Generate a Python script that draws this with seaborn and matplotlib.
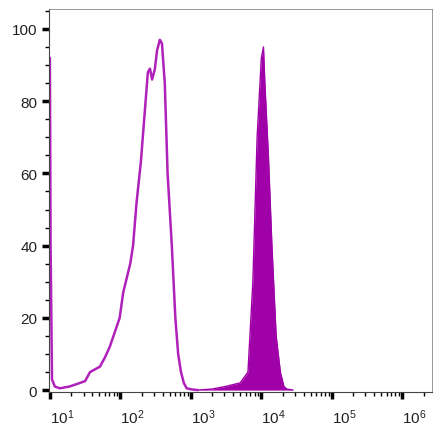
import numpy as np
import pandas as pd
import matplotlib
matplotlib.use("Agg")
import matplotlib.pyplot as plt
import matplotlib.transforms as mtransforms
import seaborn as sns
from matplotlib.ticker import LogLocator, NullFormatter, MultipleLocator

sns.set_style("white")
plt.rcParams['font.family'] = ['Liberation Sans', 'DejaVu Sans']
plt.rcParams['mathtext.fontset'] = 'custom'
plt.rcParams['mathtext.rm'] = 'Liberation Sans'
plt.rcParams['mathtext.it'] = 'Liberation Sans'

# open (control) histogram: log10 fluorescence, % of max
ctrl_log = [1.0, 1.01, 1.03, 1.07, 1.14, 1.28, 1.43, 1.50, 1.57, 1.71, 1.78, 1.85, 1.92, 1.99,
            2.04, 2.09, 2.14, 2.18, 2.23, 2.29, 2.35, 2.39, 2.42, 2.45, 2.49, 2.52, 2.56, 2.59,
            2.63, 2.67, 2.73, 2.78, 2.82, 2.86, 2.90, 2.94, 3.01, 3.10]
ctrl_y = [92, 40, 3, 1, 0.5, 1, 2, 2.5, 5, 6.5, 9, 12, 16, 20, 27, 31, 35, 40, 52, 63, 78, 88,
          89, 86, 89, 94, 97, 96, 85, 60, 40, 20, 10, 5, 2, 0.5, 0.2, 0]
# filled (stained) histogram
stain_log = [3.1, 3.30, 3.49, 3.70, 3.81, 3.88, 3.94, 4.00, 4.03, 4.05, 4.10, 4.15, 4.21,
             4.27, 4.32, 4.36, 4.45]
stain_y = [0, 0.3, 1, 2, 5, 30, 70, 92, 95, 85, 65, 40, 15, 5, 1, 0.3, 0]

ctrl = pd.DataFrame({"x": np.power(10.0, ctrl_log), "y": ctrl_y})
stain = pd.DataFrame({"x": np.power(10.0, stain_log), "y": stain_y})

fig, ax = plt.subplots(figsize=(4.43, 4.39), dpi=100)
fig.subplots_adjust(left=0.111, right=0.975, top=0.977, bottom=0.105)

ax.fill_between(stain["x"], stain["y"], color="#A000A8", lw=0)
sns.lineplot(data=stain, x="x", y="y", ax=ax, color="#A000A8", lw=1)
sns.lineplot(data=ctrl, x="x", y="y", ax=ax, color="#B020BA", lw=1.8)

ax.set_xscale("log")
ax.set_xlim(10**0.99, 10**6.42)
ax.set_ylim(-0.5, 105.5)
ax.set_xlabel("")
ax.set_ylabel("")
ax.set_xticks([10**i for i in range(1, 7)])
ax.set_xticklabels([f"$10^{{{i}}}$" for i in range(1, 7)])
ax.xaxis.set_minor_locator(LogLocator(base=10, subs=np.arange(2, 10), numticks=20))
ax.xaxis.set_minor_formatter(NullFormatter())
ax.set_yticks([0, 20, 40, 60, 80, 100])
ax.yaxis.set_minor_locator(MultipleLocator(5))
ax.tick_params(axis="both", which="both", bottom=True, left=True)
ax.tick_params(axis="both", which="major", direction="out", length=5, width=2.5,
               color="black", labelsize=11, labelcolor="#222222")
ax.tick_params(axis="both", which="minor", direction="out", length=3, width=1, color="black")
ax.tick_params(axis="x", which="major", pad=6)
offset = mtransforms.ScaledTranslation(0.12, 0, fig.dpi_scale_trans)
for lab in ax.get_xticklabels():
    lab.set_transform(lab.get_transform() + offset)
for s in ["top", "right"]:
    ax.spines[s].set_color("#888888")
    ax.spines[s].set_linewidth(0.6)
ax.spines["left"].set_color("#444444")
ax.spines["bottom"].set_color("#444444")
fig.savefig("out.png", dpi=100)
